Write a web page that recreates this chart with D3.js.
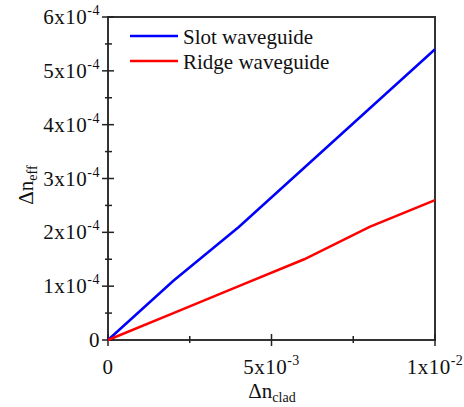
<!DOCTYPE html>
<html>
<head>
<meta charset="utf-8">
<script src="https://cdn.jsdelivr.net/npm/d3@7"></script>
<style>
  body { margin: 0; background: white; }
  svg text { font-family: 'Times New Roman', 'Liberation Serif', Times, 'FreeSerif', serif !important; }
</style>
</head>
<body>
<div class="svg-wrap"></div>
<script>
// data
let xValues = [0, 0.002, 0.004, 0.006, 0.008, 0.01];
let slotValues = [0, 1.1e-4, 2.1e-4, 3.2e-4, 4.3e-4, 5.4e-4];
let ridgeValues = [0, 0.5e-4, 1.0e-4, 1.5e-4, 2.1e-4, 2.6e-4];
let seriesNames = ["Slot waveguide", "Ridge waveguide"];
let colors = ["#0000ff", "#ff0000"];
let xTicks = [0, 0.005, 0.01];
let xTickLabels = [["0", ""], ["5x10", "-3"], ["1x10", "-2"]];
let yTicks = [0, 1e-4, 2e-4, 3e-4, 4e-4, 5e-4, 6e-4];
let yTickLabels = [["0", ""], ["1x10", "-4"], ["2x10", "-4"], ["3x10", "-4"], ["4x10", "-4"], ["5x10", "-4"], ["6x10", "-4"]];

const serif = "'Times New Roman', 'Liberation Serif', Times, serif";

var margin = { top: 17, right: 29, bottom: 67, left: 108 },
  width = 464 - margin.left - margin.right,
  height = 407 - margin.top - margin.bottom;

let svg = d3.select(".svg-wrap")
  .append("svg")
  .attr("width", 464)
  .attr("height", 407)
  .attr("font-family", serif)
  .style("background-color", "white");

let g = svg.append("g")
  .attr("transform", "translate(" + margin.left + "," + margin.top + ")");

var scaleX = d3.scaleLinear().domain([0, 0.01]).range([0, width]);
var scaleY = d3.scaleLinear().domain([0, 6e-4]).range([height, 0]);

// frame
g.append("rect")
  .attr("width", width)
  .attr("height", height)
  .attr("fill", "none")
  .attr("stroke", "#333")
  .attr("stroke-width", 2);

// minor + major ticks, crossing the axis
let xMinor = [0.0025, 0.0075];
let yMinor = d3.range(0.5e-4, 6e-4, 1e-4);

g.selectAll(".xmaj").data(xTicks).enter().append("line")
  .attr("x1", d => scaleX(d)).attr("x2", d => scaleX(d))
  .attr("y1", height - 6).attr("y2", height + 6)
  .attr("stroke", "#222").attr("stroke-width", 1.5);
g.selectAll(".xmin").data(xMinor).enter().append("line")
  .attr("x1", d => scaleX(d)).attr("x2", d => scaleX(d))
  .attr("y1", height - 4).attr("y2", height + 3)
  .attr("stroke", "#222").attr("stroke-width", 1.5);
g.selectAll(".ymaj").data(yTicks).enter().append("line")
  .attr("y1", d => scaleY(d)).attr("y2", d => scaleY(d))
  .attr("x1", -6).attr("x2", 6)
  .attr("stroke", "#222").attr("stroke-width", 1.5);
g.selectAll(".ymin").data(yMinor).enter().append("line")
  .attr("y1", d => scaleY(d)).attr("y2", d => scaleY(d))
  .attr("x1", -3).attr("x2", 4)
  .attr("stroke", "#222").attr("stroke-width", 1.5);

// tick labels
let xl = g.selectAll(".xlab").data(xTicks).enter().append("text")
  .attr("x", d => scaleX(d))
  .attr("y", height + 34)
  .attr("text-anchor", "middle")
  .attr("fill", "#111")
  .style("font-family", serif)
  .style("letter-spacing", "0.5px")
  .style("font-size", "21px");
xl.append("tspan").text((d, i) => xTickLabels[i][0]);
xl.append("tspan").attr("dy", -9).style("font-size", "14px").text((d, i) => xTickLabels[i][1]);

let yl = g.selectAll(".ylab").data(yTicks).enter().append("text")
  .attr("x", -8)
  .attr("y", d => scaleY(d) + 7)
  .attr("text-anchor", "end")
  .attr("fill", "#111")
  .style("font-family", serif)
  .style("letter-spacing", "0.5px")
  .style("font-size", "21px");
yl.append("tspan").text((d, i) => yTickLabels[i][0]);
yl.append("tspan").attr("dy", -9).style("font-size", "14px").text((d, i) => yTickLabels[i][1]);

// axis titles
let xt = svg.append("text")
  .attr("x", 272).attr("y", 398)
  .attr("text-anchor", "middle")
  .attr("fill", "#111")
  .style("font-family", serif)
  .style("font-size", "21px");
xt.append("tspan").text("Δn");
xt.append("tspan").attr("dy", 4).style("font-size", "14px").text("clad");

let yt = svg.append("text")
  .attr("transform", "translate(33,185) rotate(-90)")
  .attr("text-anchor", "middle")
  .attr("fill", "#111")
  .style("font-family", serif)
  .style("font-size", "21px");
yt.append("tspan").text("Δn");
yt.append("tspan").attr("dy", 4).style("font-size", "14px").text("eff");

// lines
let line = d3.line()
  .x(d => scaleX(d[0]))
  .y(d => scaleY(d[1]));

[slotValues, ridgeValues].forEach((vals, i) => {
  g.append("path")
    .datum(xValues.map((x, j) => [x, vals[j]]))
    .attr("d", line)
    .attr("fill", "none")
    .attr("stroke", colors[i])
    .attr("stroke-width", 2.5);
});

// legend
let legend = g.selectAll(".legend").data(seriesNames).enter().append("g")
  .attr("transform", (d, i) => "translate(22," + (19 + i * 25) + ")");
legend.append("line")
  .attr("x1", 0).attr("x2", 48)
  .attr("stroke", (d, i) => colors[i])
  .attr("stroke-width", 2.5);
legend.append("text")
  .attr("x", 53).attr("y", 8)
  .attr("fill", "#111")
  .style("font-family", serif)
  .style("font-size", "21px")
  .text(d => d);
</script>
</body>
</html>
